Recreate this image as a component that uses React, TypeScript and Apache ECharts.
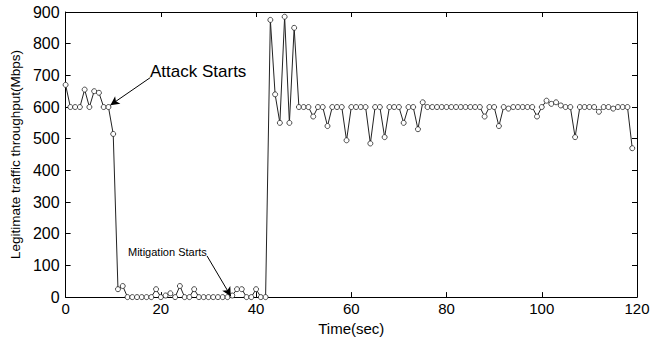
import React, { useEffect, useRef } from "react";
import * as echarts from "echarts";

// Legitimate traffic throughput (Mbps), one sample per second from t = 0 s
const throughput: number[] = [
  670, 600, 600, 600, 655, 600, 650, 645, 600, 600,
  515, 25, 35, 0, 0, 0, 0, 0, 0, 25,
  0, 5, 12, 0, 35, 0, 0, 25, 0, 0,
  0, 0, 0, 0, 0, 5, 25, 25, 0, 0,
  25, 0, 0, 875, 640, 550, 885, 550, 850, 600,
  600, 600, 570, 600, 600, 540, 600, 600, 600, 495,
  600, 600, 600, 600, 485, 600, 600, 505, 600, 600,
  600, 550, 600, 600, 530, 615, 600, 600, 600, 600,
  600, 600, 600, 600, 600, 600, 600, 600, 570, 600,
  600, 540, 600, 595, 600, 600, 600, 600, 600, 570,
  600, 620, 610, 615, 605, 600, 600, 505, 600, 600,
  600, 600, 585, 600, 600, 595, 600, 600, 600, 470,
];

const xTicks = { min: 0, max: 120, interval: 20 };
const yTicks = { min: 0, max: 900, interval: 100 };

const xTitle = "Time(sec)";
const yTitle = "Legitimate traffic throughput(Mbps)";

const attackLabel = "Attack Starts";
const mitigationLabel = "Mitigation Starts";
// arrow endpoints in data space: [from, to]
const attackArrow: [number, number][] = [[17.8, 693], [9.4, 606]];
const mitigationArrow: [number, number][] = [[29.7, 130], [34.7, 3]];

const FONT = "'Liberation Sans', Arial, Helvetica, sans-serif";

export default function App() {
  const ref = useRef<HTMLDivElement>(null);
  useEffect(() => {
    if (!ref.current) return;
    const chart = echarts.init(ref.current, undefined, { renderer: "svg" });
    const points = throughput.map((v, i) => [i, v]);
    const axisLine = { show: true, onZero: false, lineStyle: { color: "#000", width: 1 } };
    const tick = { show: true, inside: true, length: 5, lineStyle: { color: "#000", width: 1 } };
    chart.setOption({
      animation: false,
      backgroundColor: "#fff",
      grid: { left: 63, right: 24, top: 12, bottom: 41, containLabel: false },
      xAxis: [
        {
          type: "value",
          ...xTicks,
          position: "bottom",
          axisLine,
          axisTick: tick,
          splitLine: { show: false },
          axisLabel: { color: "#000", fontSize: 15, fontFamily: FONT, margin: 4 },
          name: xTitle,
          nameLocation: "middle",
          nameGap: 15,
          nameTextStyle: { color: "#000", fontSize: 15, fontFamily: FONT, verticalAlign: "top" },
        },
        {
          type: "value",
          ...xTicks,
          position: "top",
          axisLine,
          axisTick: tick,
          splitLine: { show: false },
          axisLabel: { show: false },
        },
      ],
      yAxis: [
        {
          type: "value",
          ...yTicks,
          position: "left",
          axisLine,
          axisTick: tick,
          splitLine: { show: false },
          axisLabel: { color: "#000", fontSize: 16, fontFamily: FONT, margin: 6 },
          name: yTitle,
          nameLocation: "middle",
          nameGap: 35,
          nameTextStyle: { color: "#000", fontSize: 13.5, fontFamily: FONT },
        },
        {
          type: "value",
          ...yTicks,
          position: "right",
          axisLine,
          axisTick: tick,
          splitLine: { show: false },
          axisLabel: { show: false },
        },
      ],
      series: [
        {
          type: "line",
          data: points,
          xAxisIndex: 0,
          yAxisIndex: 0,
          lineStyle: { color: "#222", width: 1 },
          symbol: "circle",
          symbolSize: 5,
          showAllSymbol: true,
          itemStyle: { color: "#fff", borderColor: "#222", borderWidth: 0.8 },
          z: 3,
          markLine: {
            silent: true,
            symbol: ["none", "arrow"],
            symbolSize: [7, 9],
            label: { show: false },
            lineStyle: { color: "#000", width: 1, type: "solid" },
            emphasis: { disabled: true },
            data: [
              [{ coord: attackArrow[0] }, { coord: attackArrow[1] }],
              [{ coord: mitigationArrow[0] }, { coord: mitigationArrow[1] }],
            ],
          },
        },
      ],
      graphic: [
        {
          type: "text",
          left: 150,
          top: 63,
          style: { text: attackLabel, fontSize: 17, fontFamily: FONT, fill: "#000" },
        },
        {
          type: "text",
          left: 128,
          top: 246,
          style: { text: mitigationLabel, fontSize: 11, fontFamily: FONT, fill: "#000" },
        },
      ],
    });
    return () => chart.dispose();
  }, []);
  return (
    <div
      ref={ref}
      style={{ position: "fixed", left: 0, top: 0, width: 661, height: 341, background: "#fff" }}
    />
  );
}
